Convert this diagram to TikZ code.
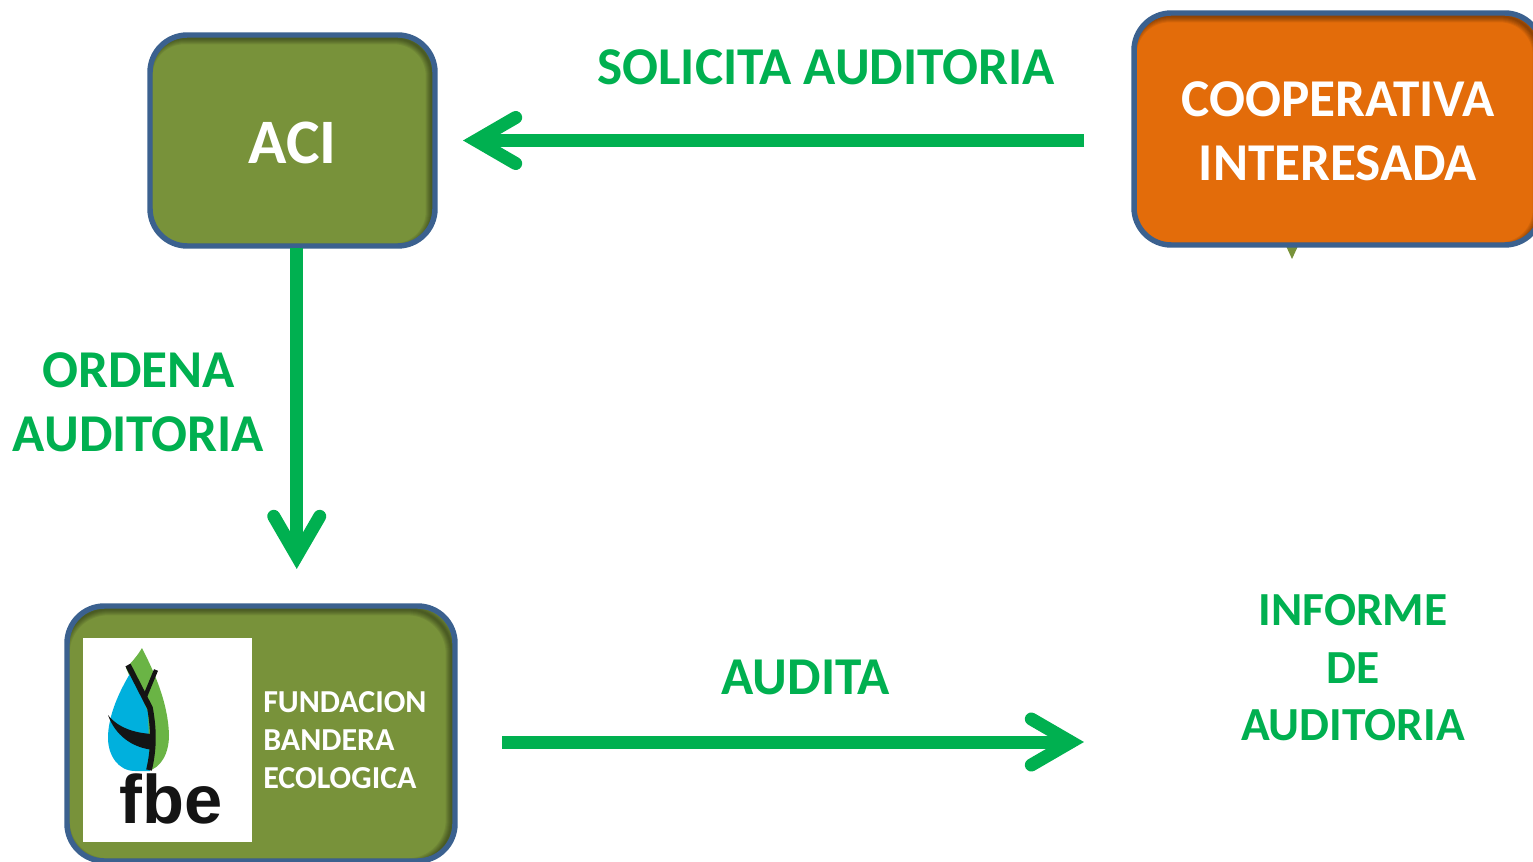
\documentclass[tikz,border=0pt]{standalone}
\usepackage{fontspec}
\setmainfont{Carlito}
\newfontfamily\logofont{Liberation Sans}
\definecolor{olivebox}{HTML}{78923A}
\definecolor{orangebox}{HTML}{E36C0A}
\definecolor{edgeblue}{HTML}{3B618F}
\definecolor{flowgreen}{HTML}{00B050}
\definecolor{leafblue}{HTML}{00B0DD}
\definecolor{leafgreen}{HTML}{6AB445}
\definecolor{logoblack}{HTML}{141414}
\newcommand{\lowertext}[1]{\raisebox{-1.5pt}[\height][\depth]{#1}}
\pgfdeclarearrow{
  name=OpenBarb,
  setup code={
    \pgfarrowssettipend{0pt}
    \pgfarrowssetlineend{-14pt}
    \pgfarrowssetbackend{-45pt}
    \pgfarrowssetvisualbackend{-14pt}
  },
  drawing code={
    \pgfsetdash{}{0pt}
    \pgfsetlinewidth{9.75pt}
    \pgfsetroundcap
    \pgfsetmiterjoin
    \pgfpathmoveto{\pgfpoint{-39.5pt}{17.25pt}}
    \pgfpathlineto{\pgfpoint{-9.75pt}{0pt}}
    \pgfpathlineto{\pgfpoint{-39.5pt}{-17.25pt}}
    \pgfusepathqstroke
  }
}
\tikzset{
  x=0.75pt,y=-0.75pt,
  cornerr/.store in=\cornerr,cornerr=28pt,
  roundbox/.style={
    draw=edgeblue,line width=4.1pt,rounded corners=\cornerr,
    inner sep=0pt,text=white,align=center,font=\bfseries\fontsize{39.9pt}{48pt}\selectfont,
    path picture={
      \foreach \w in {1,2,3,4,5,6}{
        \draw[black,opacity=0.07,line width=\w*1.5pt,rounded corners=\cornerr,fill=none]
          ([xshift=-2.5pt,yshift=-2.5pt]path picture bounding box.south west)
          rectangle ([xshift=-2.5pt,yshift=-2.5pt]path picture bounding box.north east);
      }
    }
  },
  flow/.style={draw=flowgreen,line width=9.75pt,-{OpenBarb}},
  flowlabel/.style={text=flowgreen,inner sep=0pt,align=center,font=\bfseries\fontsize{39.9pt}{48pt}\selectfont},
  smalllabel/.style={text=flowgreen,inner sep=0pt,align=center,font=\bfseries\fontsize{35.6pt}{43.2pt}\selectfont},
}
\begin{document}
\begin{tikzpicture}
\useasboundingbox (0,0) rectangle (1533,862);
\fill[white] (0,0) rectangle (1533,862);
% small marker under the orange box
\fill[olivebox] (1286,246) -- (1298,246) -- (1292,259) -- cycle;
% boxes
\node[roundbox,cornerr=28pt,fill=olivebox,minimum width=213.75pt,minimum height=158.25pt,
      font=\bfseries\fontsize{47.5pt}{56pt}\selectfont] (aci) at (292.5,140.5) {\lowertext{ACI}};
\node[roundbox,cornerr=29pt,fill=orangebox,minimum width=306pt,minimum height=174pt] (coop) at (1338,129) {\lowertext{COOPERATIVA}\\\lowertext{INTERESADA}};
\node[roundbox,cornerr=33pt,fill=olivebox,minimum width=291pt,minimum height=191.25pt] (fbe) at (261,733.5) {};
% logo
\fill[white] (83,638) rectangle (252,842);
\fill[leafgreen] (142,648) .. controls (152,668) and (168,700) .. (169,735) .. controls (169,755) and (160,768) .. (148,771) -- (140,700) -- (126,668) .. controls (132,662) and (138,655) .. (142,648) -- cycle;
\fill[leafblue] (131,672) -- (148,712) -- (150,771) -- (135,771) .. controls (118,771) and (108,755) .. (108,738) .. controls (108,715) and (120,690) .. (131,672) -- cycle;
\draw[logoblack,line width=4.3pt,line join=round] (128,665) -- (150,708) .. controls (153,725) and (155,745) .. (149,770);
\draw[logoblack,line width=3.2pt] (156,670) -- (144,699);
\fill[logoblack] (108,715) .. controls (118,728) and (135,733) .. (152,734) -- (154,750) .. controls (132,748) and (115,735) .. (108,715) -- cycle;
\node[inner sep=0pt,text=logoblack,font=\logofont\bfseries\fontsize{51.5pt}{51pt}\selectfont] (logotext) at (171,799) {fbe};
% labels
\node[inner sep=0pt,text=white,align=left,anchor=west,font=\bfseries\fontsize{24pt}{28.5pt}\selectfont] (fbetext) at (263,740) {FUNDACION\\BANDERA\\ECOLOGICA};
\node[flowlabel] (solicita) at (826,67) {SOLICITA AUDITORIA};
\node[flowlabel] (ordena) at (138.5,402) {ORDENA\\AUDITORIA};
\node[flowlabel] (audita) at (805.5,677) {AUDITA};
\node[smalllabel] (informe) at (1353,668) {INFORME\\DE\\AUDITORIA};
% connectors
\coordinate (solstart) at (1084,140.5);
\coordinate (solend) at (463,140.5);
\coordinate (ordstart) at (296.75,248);
\coordinate (ordend) at (296.75,569);
\coordinate (audstart) at (502,742);
\coordinate (audend) at (1084,742);
\draw[flow] (solstart) -- (solend);
\draw[flow] (ordstart) -- (ordend);
\draw[flow] (audstart) -- (audend);
\end{tikzpicture}
\end{document}
